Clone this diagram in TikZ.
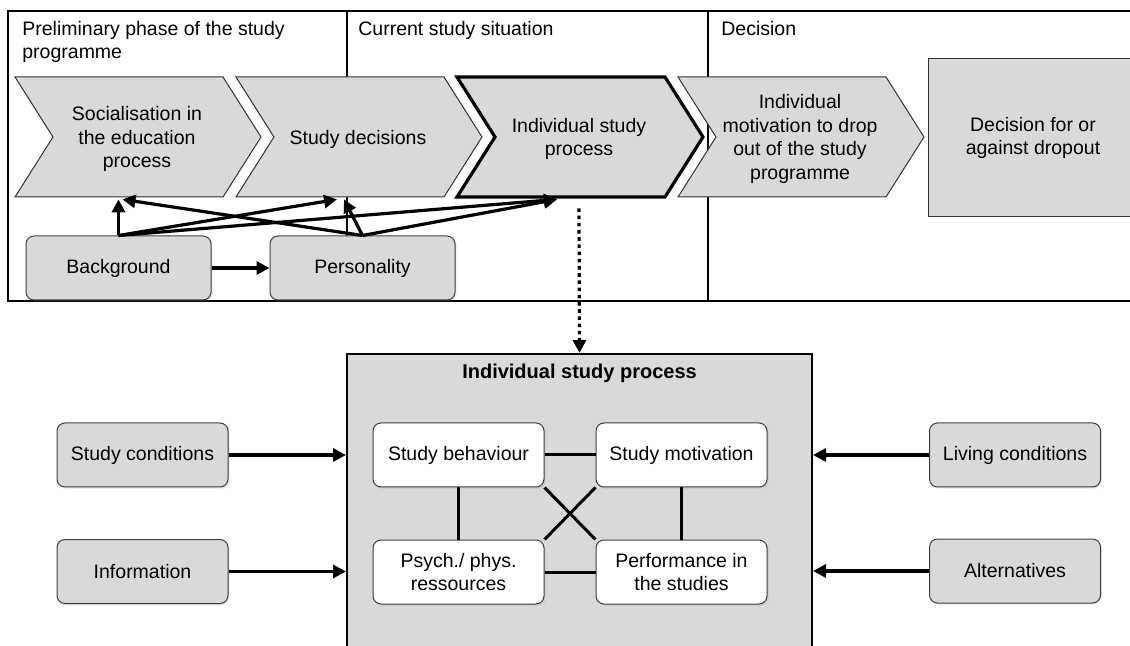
\documentclass[tikz,border=0pt]{standalone}
\usepackage{fontspec}
\setmainfont{Liberation Sans}
\usepackage{xcolor}
\usetikzlibrary{arrows.meta,positioning,calc,shadows}
\definecolor{boxgray}{RGB}{217,217,217}

\begin{document}
\begin{tikzpicture}[x=0.5pt,y=-0.5pt,
    font=\fontsize{9.75}{11.7}\selectfont,
    frame/.style={line width=1pt},
    chev/.style={draw=black!80,fill=boxgray,line width=0.5pt},
    stage/.style={minimum width=85pt,minimum height=60pt,align=center},
    factor/.style={rectangle,rounded corners=4pt,draw=black!75,fill=boxgray,line width=0.5pt,
                minimum width=85.5pt,minimum height=32pt,align=center,
                drop shadow={shadow xshift=0.8pt,shadow yshift=-0.8pt,opacity=0.2}},
    aspect/.style={factor,fill=white},
    arr/.style={-{Triangle[length=6.5pt,width=6.5pt]},line width=1.6pt},
    link/.style={line width=1.5pt},
  ]
  \useasboundingbox (0,0) rectangle (1130,646);
  % phases
  \draw[frame] (8,11) rectangle (1136,301);
  \draw[frame] (347,11) -- (347,301);
  \draw[frame] (708,11) -- (708,301);
  \node[anchor=north west,align=left,inner sep=0pt] (ph1) at (22,21) {Preliminary phase of the study\\programme};
  \node[anchor=north west,inner sep=0pt] (ph2) at (358,21) {Current study situation};
  \node[anchor=north west,inner sep=0pt] (ph3) at (721,21) {Decision};

  \foreach \cx/\lw/\dc in {15/0.5pt/black!80,236/0.5pt/black!80,457/1.6pt/black,678/0.5pt/black!80}
    \draw[chev,draw=\dc,line width=\lw] (\cx,77) -- ++(208,0) -- ++(38,60) -- ++(-38,60) -- ++(-208,0) -- ++(38,-60) -- cycle;
  \node[stage] (soc) at (137,139) {Socialisation in\\the education\\process};
  \node[stage] (sdec) at (358,139) {Study decisions};
  \node[stage] (isp) at (579,139) {Individual study\\process};
  \node[stage] (motiv) at (800,139) {Individual\\motivation to drop\\out of the study\\programme};
  \node[rectangle,draw=black!80,fill=boxgray,line width=0.5pt,minimum width=105pt,
        minimum height=79pt,align=center] (dcs) at (1033,138) {Decision for or\\against dropout};

  \node[factor,minimum width=92.5pt] (bg) at (118.5,268) {Background};
  \node[factor,minimum width=92.5pt,right=29pt of bg] (pers) {Personality};
  \draw[arr] (bg) -- (pers);
  \draw[arr] (bg.north) -- (bg.north |- soc.south);
  \draw[arr] (pers.north) -- ($(bg.north |- soc.south)+(4,0)$);
  \draw[arr] (bg.north) -- ($(sdec.south)+(-21,0)$);
  \draw[arr] (pers.north) -- ($(sdec.south)+(-14,0)$);
  \draw[arr] (bg.north) -- ($(isp.south)+(-22,0)$);
  \draw[arr] (pers.north) -- ($(isp.south)+(-22,0)$);

  % individual study process in detail
  \node[rectangle,draw,line width=1pt,fill=boxgray,minimum width=232.5pt,
        minimum height=155pt] (ispbox) at (579.5,509) {};
  \node[font=\bfseries] (ttl) at (579.5,373) {Individual study process};
  \draw[arr,dash pattern=on 1.8pt off 1.8pt] ([yshift=-4.5pt]isp.south) -- (ispbox.north);

  \node[aspect] (sb) at (458.5,455) {Study behaviour};
  \node[aspect,right=25.5pt of sb] (sm) {Study motivation};
  \node[aspect,below=26pt of sb] (pr) {Psych./ phys.\\ressources};
  \node[aspect,below=26pt of sm] (ps) {Performance in\\the studies};
  \draw[link] (sb) -- (sm);
  \draw[link] (pr) -- (ps);
  \draw[link] (sb) -- (pr);
  \draw[link] (sm) -- (ps);
  \draw[link] (sb.south east) -- (ps.north west);
  \draw[link] (sm.south west) -- (pr.north east);

  \node[factor] (scond) at (142.5,455) {Study conditions};
  \node[factor] (info) at (142.5,571.5) {Information};
  \node[factor] (lcond) at (1015,455) {Living conditions};
  \node[factor] (alt) at (1015,571) {Alternatives};
  \draw[arr] (scond) -- (scond -| ispbox.west);
  \draw[arr] (info) -- (info -| ispbox.west);
  \draw[arr] (lcond) -- (lcond -| ispbox.east);
  \draw[arr] (alt) -- (alt -| ispbox.east);
\end{tikzpicture}
\end{document}
